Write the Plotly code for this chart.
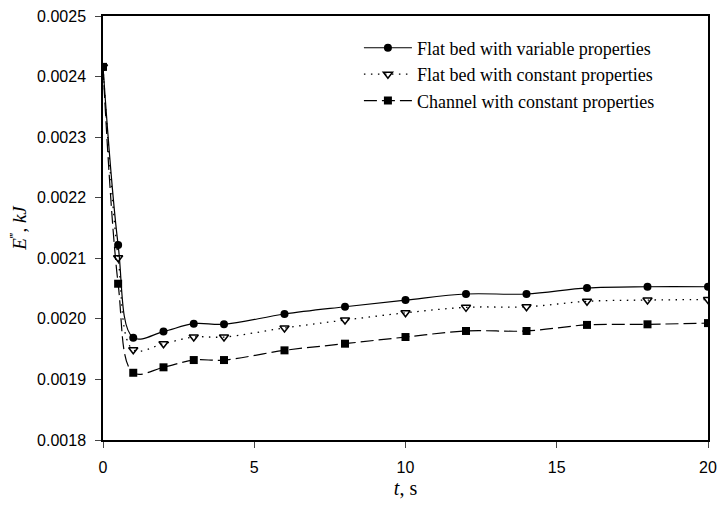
import plotly.graph_objects as go

t = [0, 0.5, 1, 2, 3, 4, 6, 8, 10, 12, 14, 16, 18, 20]
flat_variable = [0.002416, 0.002122, 0.001969, 0.001979, 0.001992, 0.001991, 0.002008,
                 0.002020, 0.002031, 0.002041, 0.002041, 0.002051, 0.002053, 0.002053]
flat_constant = [0.002416, 0.002101, 0.001949, 0.001959, 0.001970, 0.001970, 0.001985,
                 0.001998, 0.002010, 0.002019, 0.002020, 0.002029, 0.002031, 0.002032]
channel_constant = [0.002416, 0.002058, 0.001911, 0.001920, 0.001932, 0.001932, 0.001948,
                    0.001959, 0.001970, 0.001980, 0.001980, 0.001990, 0.001991, 0.001993]
names = ["Flat bed with variable properties",
         "Flat bed with constant properties",
         "Channel with constant properties"]

fig = go.Figure()
fig.add_trace(go.Scatter(x=t, y=flat_variable, name=names[0], mode="lines+markers",
                         line=dict(color="black", width=1.2, shape="spline", smoothing=1.0),
                         marker=dict(symbol="circle", size=8, color="black")))
fig.add_trace(go.Scatter(x=t, y=flat_constant, name=names[1], mode="lines+markers",
                         line=dict(color="black", width=1.3, dash="1.5px,5.5px", shape="spline", smoothing=1.0),
                         marker=dict(symbol="triangle-down-open", size=8, color="black",
                                     line=dict(width=1.5, color="black"))))
fig.add_trace(go.Scatter(x=t, y=channel_constant, name=names[2], mode="lines+markers",
                         line=dict(color="black", width=1.2, dash="13px,5px", shape="spline", smoothing=1.0),
                         marker=dict(symbol="square", size=8, color="black")))

fig.update_layout(
    width=717, height=511,
    margin=dict(l=103, r=9, t=16, b=71),
    paper_bgcolor="white", plot_bgcolor="white",
    font=dict(family="Liberation Sans, Arial", size=16, color="black"),
    showlegend=True,
    legend=dict(x=0.423, y=0.968, xanchor="left", yanchor="top",
                bgcolor="rgba(0,0,0,0)",
                font=dict(family="Liberation Serif, Times New Roman", size=18, color="black"),
                itemwidth=48),
)
fig.update_xaxes(range=[0, 20], tickvals=[0, 5, 10, 15, 20], ticks="outside", ticklen=6,
                 ticklabelstandoff=6, automargin=False,
                 showline=True, linecolor="black", linewidth=1.5, mirror=True,
                 showgrid=False, zeroline=False,
                 tickfont=dict(family="Liberation Sans, Arial", size=16),
                 title=dict(text="<i>t</i>, s", standoff=6,
                            font=dict(family="Liberation Serif, Times New Roman", size=20)))
fig.update_yaxes(range=[0.0018, 0.0025], dtick=0.0001, tickformat=".4f", ticks="outside", ticklen=6,
                 ticklabelstandoff=6, automargin=False,
                 showline=True, linecolor="black", linewidth=1.5, mirror=True,
                 showgrid=False, zeroline=False,
                 tickfont=dict(family="Liberation Sans, Arial", size=16),
                 title=dict(text="<i>E</i><sup>‴</sup>, <i>kJ</i>", standoff=5,
                            font=dict(family="Liberation Serif, Times New Roman", size=19)))

fig.write_html("out.html", config={"displayModeBar": False},
               post_script="document.body.style.margin='0';")
